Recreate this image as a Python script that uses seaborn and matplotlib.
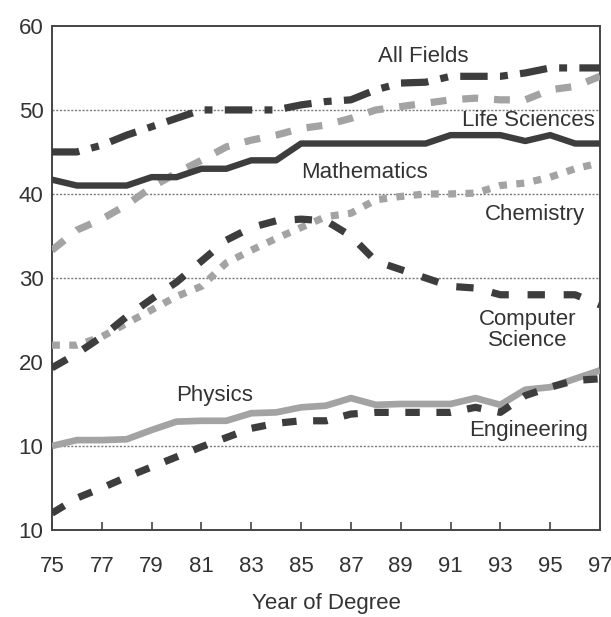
import numpy as np
import pandas as pd
import matplotlib
matplotlib.use("Agg")
import matplotlib.pyplot as plt
import seaborn as sns

# data
years = list(range(75, 98))

all_fields = [45, 45, 45.8, 47, 48, 49, 50, 50, 50, 50, 50.6, 51, 51.2, 52.4, 53.2, 53.3, 54, 54, 54, 54.4, 55, 55, 55]
life_sciences = [33.3, 35.7, 37, 38.7, 40.8, 42.5, 44, 45.6, 46.4, 47, 47.8, 48.2, 49, 50, 50.4, 50.8, 51.2, 51.4, 51.2, 51.2, 52.4, 52.8, 54]
mathematics = [41.7, 41, 41, 41, 42, 42, 43, 43, 44, 44, 46, 46, 46, 46, 46, 46, 47, 47, 47, 46.3, 47, 46, 46]
chemistry = [22, 22, 23, 24.6, 26.2, 27.8, 29, 31.8, 33.3, 34.7, 36, 37.3, 37.7, 39.3, 39.7, 40, 40, 40.1, 41, 41.3, 42, 43, 43.7]
computer_science = [19.3, 21, 23, 25.4, 27.5, 29.5, 32, 34.5, 36, 36.8, 37, 36.8, 35, 32, 31, 30, 29, 28.8, 28, 28, 28, 28, 26.8]
physics = [10, 10.7, 10.7, 10.8, 11.9, 12.9, 13, 13, 13.9, 14, 14.6, 14.8, 15.7, 14.9, 15, 15, 15, 15.7, 14.9, 16.7, 17, 18, 19]
engineering = [2, 3.8, 5, 6.3, 7.5, 8.7, 9.9, 11, 12.1, 12.7, 13, 13, 13.8, 14, 14, 14, 14, 14.6, 14, 16, 17, 17.8, 18]

x_ticks = list(range(75, 98, 2))
y_ticks = [0, 10, 20, 30, 40, 50, 60]
y_tick_labels = ["10", "10", "20", "30", "40", "50", "60"]
grid_levels = [10, 30, 40, 50]

dark = "#3d3d3d"
light = "#a3a3a3"
text_col = "#333333"

series = [
    # name, values, color, dashes, linewidth
    ("All Fields", all_fields, dark, (3.8, 1.7, 1.1, 1.7), 5.2),
    ("Life Sciences", life_sciences, light, (2.2, 2.2), 5.2),
    ("Mathematics", mathematics, dark, None, 4.6),
    ("Chemistry", chemistry, light, (1.1, 1.3), 5.2),
    ("Computer Science", computer_science, dark, (2.4, 2.6), 5.2),
    ("Physics", physics, light, None, 4.8),
    ("Engineering", engineering, dark, (2.0, 2.3), 5.2),
]

sns.set_style("white")
plt.rcParams["font.family"] = ["Liberation Sans", "DejaVu Sans"]

fig = plt.figure(figsize=(6.11, 6.17), dpi=100)
ax = fig.add_axes([0.085, 0.141, 0.897, 0.817])

for lvl in grid_levels:
    ax.axhline(lvl, color="#7a7a7a", lw=1.0, ls=(0, (1.5, 1.2)), zorder=1)

for name, vals, col, dash, lw in series:
    df = pd.DataFrame({"year": years, "value": vals})
    sns.lineplot(data=df, x="year", y="value", ax=ax, color=col, lw=lw, zorder=3)
    l = ax.lines[-1]
    if dash is not None:
        l.set_dashes(dash)
    l.set_solid_capstyle("butt")

ax.set_xlim(75, 97)
ax.set_ylim(0, 60)
ax.set_xticks(x_ticks)
ax.set_xticklabels([str(t) for t in x_ticks])
ax.set_yticks(y_ticks)
ax.set_yticklabels(y_tick_labels)
ax.tick_params(axis="x", bottom=True, direction="in", length=6, width=1.2, color="#444444",
               pad=19, labelsize=16, labelcolor=text_col)
ax.tick_params(axis="y", left=False, length=0, pad=6, labelsize=16, labelcolor=text_col)
ax.set_xlabel("Year of Degree", fontsize=16, color=text_col, labelpad=11)
ax.set_ylabel("")

for sp in ax.spines.values():
    sp.set_visible(True)
    sp.set_color("#444444")
    sp.set_linewidth(1.4)

labels = [
    ("All Fields", 89.9, 56.3, "center"),
    ("Life Sciences", 96.8, 48.7, "right"),
    ("Mathematics", 85.0, 42.6, "left"),
    ("Chemistry", 96.4, 37.5, "right"),
    ("Computer\nScience", 94.1, 23.8, "center"),
    ("Physics", 80.0, 16.0, "left"),
    ("Engineering", 96.5, 11.9, "right"),
]
for txt, lx, ly, ha in labels:
    ax.text(lx, ly, txt, ha=ha, va="center", fontsize=16, color=text_col,
            linespacing=1.0, zorder=4)

fig.savefig("out.png", dpi=100)
